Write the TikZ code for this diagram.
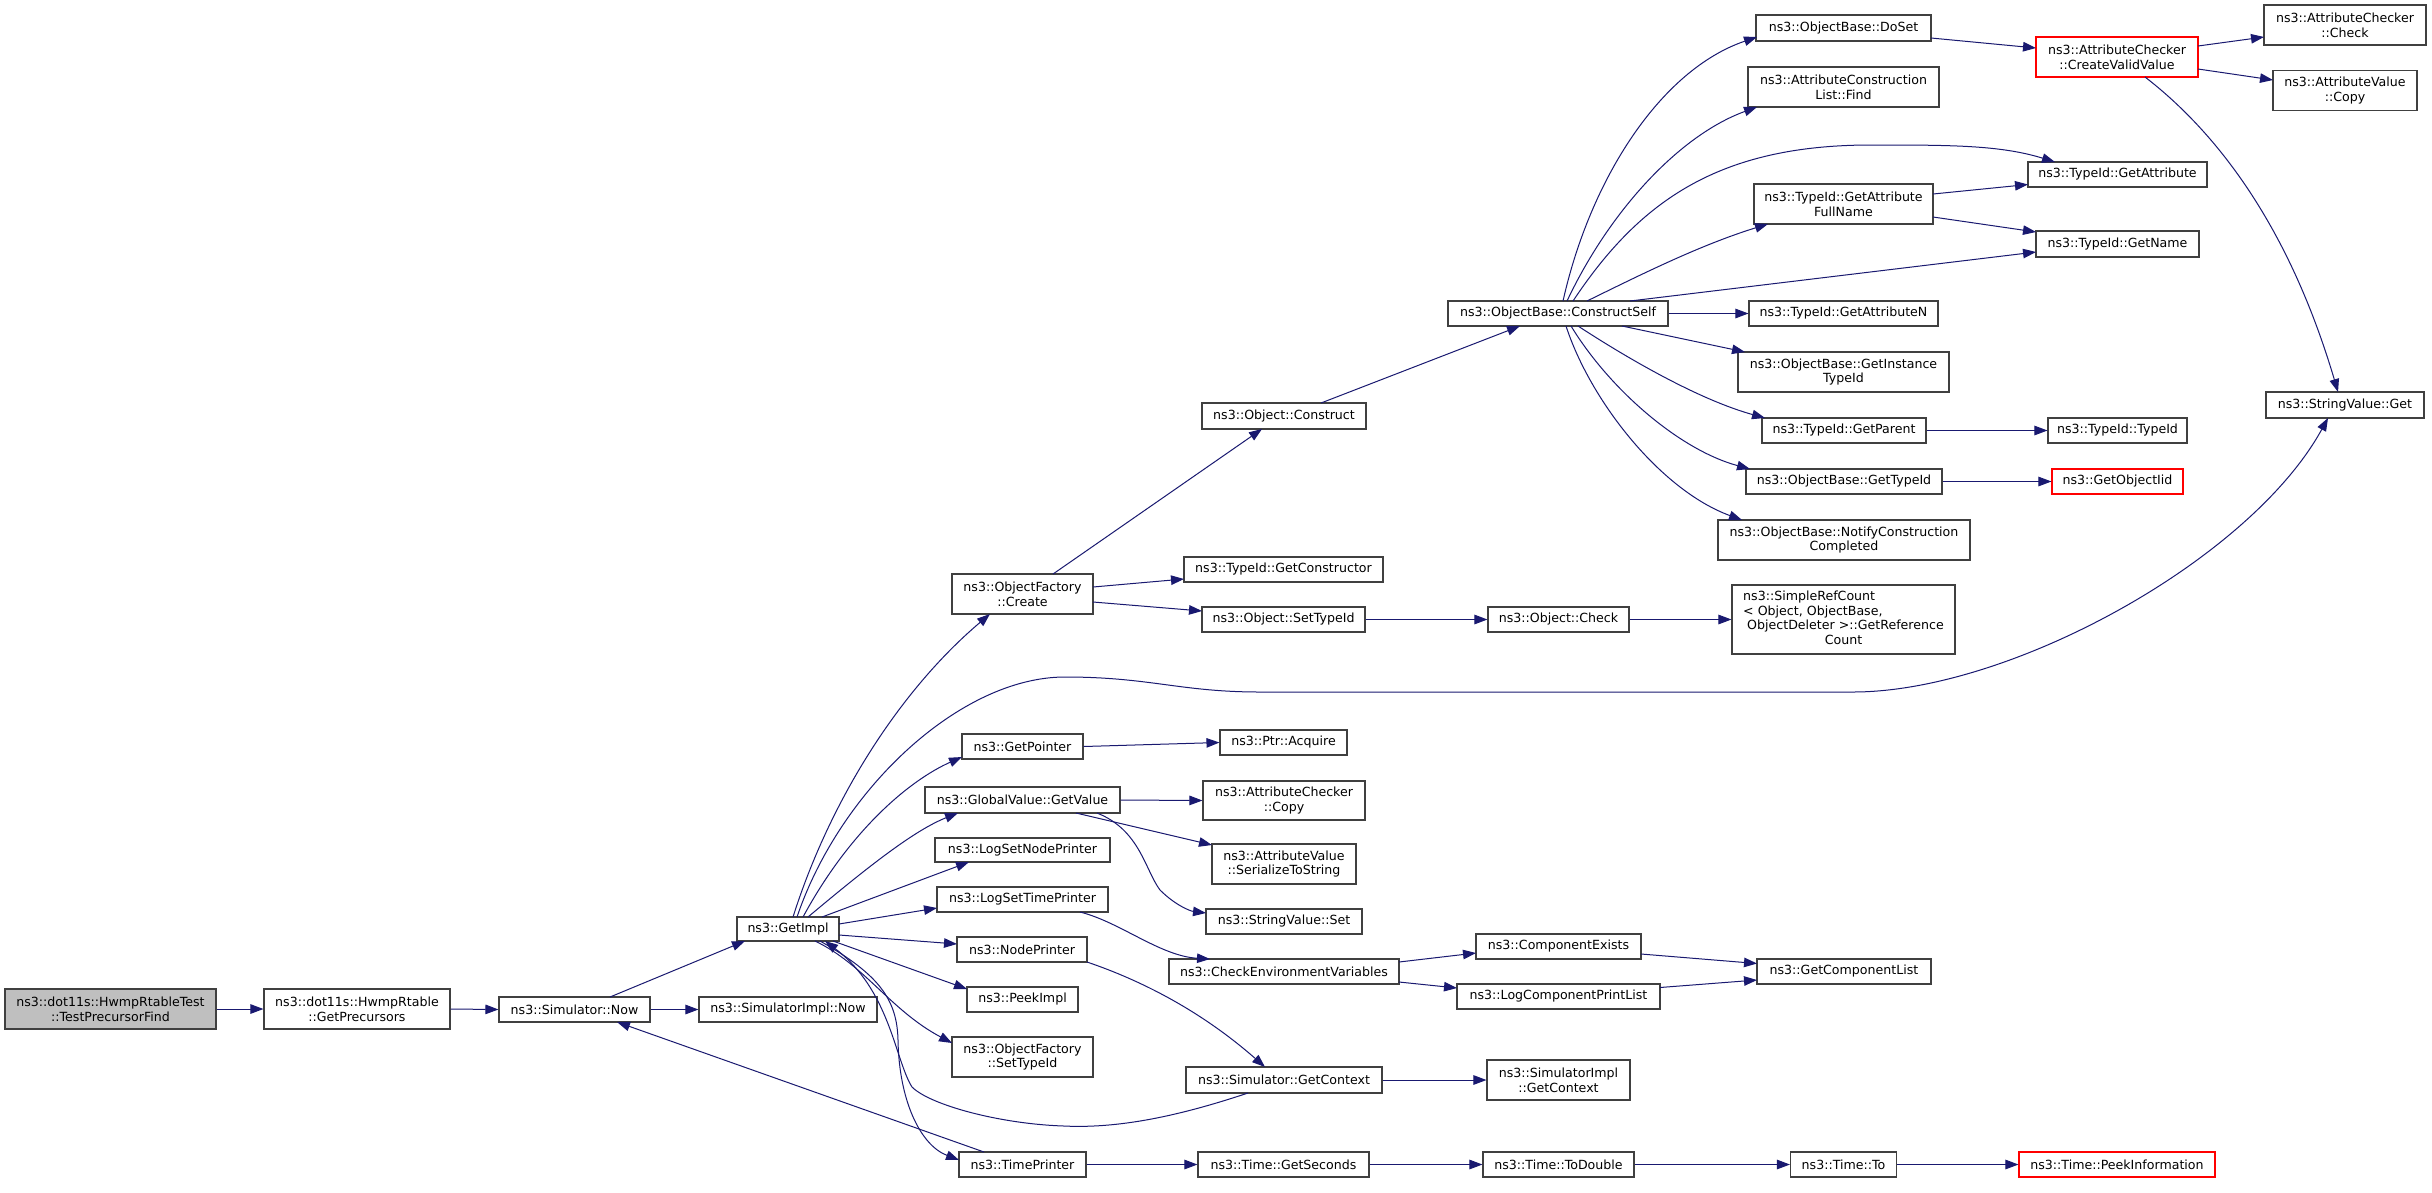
\documentclass[tikz,border=0pt]{standalone}
\usepackage{fontspec}
\setmainfont{DejaVu Sans}
\usetikzlibrary{arrows.meta,calc}
\definecolor{edgeblue}{HTML}{191970}
\definecolor{rootgray}{HTML}{BFBFBF}
\definecolor{bordergray}{HTML}{404040}
\definecolor{hotred}{HTML}{FF0000}
\tikzset{
  fn/.style={draw=bordergray, line width=1.1pt, fill=white, inner sep=0pt, align=center,
             font=\fontsize{12.6}{14.7}\selectfont},
  rootfn/.style={fill=rootgray},
  redfn/.style={draw=hotred},
  call/.style={draw=edgeblue, line width=1pt, -{Triangle[length=13pt,width=9.5pt]}},
}
\newcommand\fnode[7][]{\node[fn,#1,minimum width=#5pt,minimum height=#6pt] (#2) at (#3,#4) {#7};}
\begin{document}
\begin{tikzpicture}[x=1pt,y=-1pt]
\useasboundingbox[fill=white] (0,0) rectangle (2432,1192);
% column 1-4
\fnode[rootfn]{tpf}{110.5}{1009}{211}{40}{ns3::dot11s::HwmpRtableTest\\::TestPrecursorFind}
\fnode{gp}{357}{1009}{186}{40}{ns3::dot11s::HwmpRtable\\::GetPrecursors}
\fnode{snow}{574.5}{1009.5}{151}{25}{ns3::Simulator::Now}
\fnode{sinow}{788}{1009.5}{178}{25}{ns3::SimulatorImpl::Now}
\fnode{gimpl}{788}{929}{102}{24}{ns3::GetImpl}
% column 5
\fnode{ofc}{1022.5}{594}{141}{40}{ns3::ObjectFactory\\::Create}
\fnode{gptr}{1022.5}{746.5}{121}{25}{ns3::GetPointer}
\fnode{gvgv}{1022.5}{800}{195}{26}{ns3::GlobalValue::GetValue}
\fnode{lsnp}{1022.5}{850}{175}{24}{ns3::LogSetNodePrinter}
\fnode{lstp}{1022.5}{899.5}{171}{25}{ns3::LogSetTimePrinter}
\fnode{nprt}{1022}{949.5}{130}{25}{ns3::NodePrinter}
\fnode{peek}{1022.5}{999.5}{111}{25}{ns3::PeekImpl}
\fnode{ofsti}{1022.5}{1057}{141}{40}{ns3::ObjectFactory\\::SetTypeId}
\fnode{tprt}{1022.5}{1164.5}{127}{25}{ns3::TimePrinter}
% column 6
\fnode{ocon}{1284}{416}{164}{26}{ns3::Object::Construct}
\fnode{gcons}{1283.5}{569.5}{199}{25}{ns3::TypeId::GetConstructor}
\fnode{osti}{1283.5}{619.5}{163}{25}{ns3::Object::SetTypeId}
\fnode{pacq}{1283.5}{742.5}{127}{25}{ns3::Ptr::Acquire}
\fnode{accopy}{1284}{800.5}{162}{39}{ns3::AttributeChecker\\::Copy}
\fnode{s2s}{1284}{864}{144}{40}{ns3::AttributeValue\\::SerializeToString}
\fnode{svset}{1284}{921.5}{156}{25}{ns3::StringValue::Set}
\fnode{cev}{1284}{971.5}{230}{25}{ns3::CheckEnvironmentVariables}
\fnode{sgctx}{1284}{1080}{196}{26}{ns3::Simulator::GetContext}
\fnode{tgs}{1283.5}{1164.5}{171}{25}{ns3::Time::GetSeconds}
% column 7
\fnode{cself}{1558}{313.5}{220}{25}{ns3::ObjectBase::ConstructSelf}
\fnode{ochk}{1558.5}{619.5}{141}{25}{ns3::Object::Check}
\fnode{cex}{1558.5}{946.5}{165}{25}{ns3::ComponentExists}
\fnode{lcpl}{1558.5}{996.5}{203}{25}{ns3::LogComponentPrintList}
\fnode{sictx}{1558.5}{1080}{143}{40}{ns3::SimulatorImpl\\::GetContext}
\fnode{tdbl}{1558.5}{1164.5}{151}{25}{ns3::Time::ToDouble}
% column 8
\fnode{doset}{1843.5}{28}{175}{26}{ns3::ObjectBase::DoSet}
\fnode{acl}{1843.5}{87}{191}{40}{ns3::AttributeConstruction\\List::Find}
\fnode{gafn}{1843.5}{204}{179}{40}{ns3::TypeId::GetAttribute\\FullName}
\fnode{gan}{1843.5}{313.5}{189}{25}{ns3::TypeId::GetAttributeN}
\fnode{gitid}{1843.5}{372}{211}{40}{ns3::ObjectBase::GetInstance\\TypeId}
\fnode{gpar}{1844}{430.5}{164}{25}{ns3::TypeId::GetParent}
\fnode{obgt}{1844}{481.5}{196}{25}{ns3::ObjectBase::GetTypeId}
\fnode{ncc}{1844}{540}{252}{40}{ns3::ObjectBase::NotifyConstruction\\Completed}
\fnode{src}{1843.5}{619.5}{223}{69}{\begin{tabular}{@{}l@{}}ns3::SimpleRefCount\\
  < Object, ObjectBase,\\
  \ ObjectDeleter >::GetReference\\
  \multicolumn{1}{@{}c@{}}{Count}\end{tabular}}
\fnode{gcl}{1844}{971.5}{174}{25}{ns3::GetComponentList}
\fnode{tto}{1843.5}{1164.5}{106}{25}{ns3::Time::To}
% column 9
\fnode[redfn]{cvv}{2117}{57}{162}{40}{ns3::AttributeChecker\\::CreateValidValue}
\fnode{gattr}{2117.5}{174.5}{179}{25}{ns3::TypeId::GetAttribute}
\fnode{gname}{2117.5}{244}{163}{26}{ns3::TypeId::GetName}
\fnode{tidtid}{2117.5}{430.5}{139}{25}{ns3::TypeId::TypeId}
\fnode[redfn]{goiid}{2117.5}{481.5}{131}{25}{ns3::GetObjectIid}
\fnode[redfn]{tpi}{2117}{1164.5}{196}{25}{ns3::Time::PeekInformation}
% column 10
\fnode{achk}{2345}{25}{162}{40}{ns3::AttributeChecker\\::Check}
\fnode{avcopy}{2345}{90.5}{144}{40}{ns3::AttributeValue\\::Copy}
\fnode{svget}{2345}{405}{158}{26}{ns3::StringValue::Get}

% ---------- connectors ----------
\draw[call] (tpf.east) -- (gp.west);
\draw[call] (gp.east) -- (snow.west);
\draw[call] (snow.east) -- (sinow.west);
\draw[call] ($(snow)+(35.5,-12.5)$) -- ($(gimpl)+(-43,12)$);
\draw[call] ($(tprt)+(-38.5,-12.5)$) -- ($(snow)+(42.5,12.5)$);
% GetImpl fan-out
\draw[call] ($(gimpl)+(5,-12)$) .. controls +(37,-117) and +(-90,76) .. ($(ofc)+(-32.5,20)$);
\draw[call] ($(gimpl)+(9,-12)$) .. controls +(43,-127) and +(-105,0) .. (1065,677)
   .. controls +(85,0) and +(-80,0) .. (1260,692) -- (1853,692)
   .. controls +(157,0) and +(-78,142) .. ($(svget)+(-17,13)$);
\draw[call] ($(gimpl)+(15,-12)$) .. controls +(47,-87) and +(-52,23) .. ($(gptr)+(-60.5,10.5)$);
\draw[call] ($(gimpl)+(20,-12)$) .. controls +(62,-52) and +(-43,17) .. ($(gvgv)+(-64.5,13)$);
\draw[call] ($(gimpl)+(34,-12)$) -- ($(lsnp)+(-53.5,12)$);
\draw[call] ($(gimpl)+(51,-5)$) -- ($(lstp)+(-85.5,8.5)$);
\draw[call] ($(gimpl)+(51,6)$) -- ($(nprt)+(-65,-5.5)$);
\draw[call] ($(gimpl)+(45,12)$) -- ($(peek)+(-55.5,-10.5)$);
\draw[call] ($(gimpl)+(27,12)$) .. controls +(50,24) and +(-62,-33) .. ($(ofsti)+(-70.5,-14)$);
\draw[call] ($(gimpl)+(32,12)$) .. controls +(60,34) and +(-1,-40) .. (898,1040)
   .. controls +(1,60) and +(-39,-15) .. ($(tprt)+(-63.5,-4.5)$);
\draw[call] ($(sgctx)+(-36,13)$) .. controls +(-60,20) and +(60,3) .. (1064,1126)
   .. controls +(-64,-2) and +(18,18) .. (912,1087)
   .. controls +(-17,-27) and +(65,49) .. ($(gimpl)+(37,12)$);
% column 5 outgoing
\draw[call] ($(nprt)+(65,12.5)$) .. controls +(53,18) and +(-65,-57) .. ($(sgctx)+(-19,-13)$);
\draw[call] ($(lstp)+(57.5,12.5)$) .. controls +(40,10) and +(-50,-3) .. ($(cev)+(-74,-12.5)$);
\draw[call] (gvgv.east) -- (accopy.west);
\draw[call] ($(gvgv)+(53.5,13)$) -- ($(s2s)+(-72,-19)$);
\draw[call] ($(gvgv)+(74.5,13)$) .. controls +(43,17) and +(-15,-20) .. (1160,890)
   .. controls +(15,15) and +(-16,-2) .. ($(svset)+(-78,-8.5)$);
\draw[call] (gptr.east) -- (pacq.west);
\draw[call] ($(ofc)+(30.5,-20)$) -- ($(ocon)+(-22,13)$);
\draw[call] ($(ofc)+(70.5,-7)$) -- ($(gcons)+(-99.5,9.5)$);
\draw[call] ($(ofc)+(70.5,8)$) -- ($(osti)+(-81.5,-8.5)$);
\draw[call] (osti.east) -- (ochk.west);
\draw[call] (ochk.east) -- (src.west);
\draw[call] ($(ocon)+(37,-13)$) -- ($(cself)+(-38,12.5)$);
% ConstructSelf fan-out
\draw[call] (cself.east) -- (gan.west);
\draw[call] ($(cself)+(64,12.5)$) -- ($(gitid)+(-98.5,-20)$);
\draw[call] ($(cself)+(20,12.5)$) .. controls +(52,34) and +(-65,-18) .. ($(gpar)+(-79,-12.5)$);
\draw[call] ($(cself)+(13,12.5)$) .. controls +(39,64) and +(-70,-19) .. ($(obgt)+(-94,-12.5)$);
\draw[call] ($(cself)+(8,12.5)$) .. controls +(24,74) and +(-82,-30) .. ($(ncc)+(-102,-20)$);
\draw[call] ($(cself)+(5,-12.5)$) .. controls +(27,-121) and +(-97,33) .. ($(doset)+(-86.5,9)$);
\draw[call] ($(cself)+(9,-12.5)$) .. controls +(43,-91) and +(-77,28) .. ($(acl)+(-86.5,20)$);
\draw[call] ($(cself)+(15,-12.5)$) .. controls +(67,-101) and +(-151,0) .. (1871,145)
   .. controls +(79,0) and +(-55,-17) .. ($(gattr)+(-62.5,-12.5)$);
\draw[call] ($(cself)+(29,-12.5)$) .. controls +(53,-26) and +(-68,21) .. ($(gafn)+(-75.5,20)$);
\draw[call] ($(cself)+(72,-12.5)$) -- ($(gname)+(-81.5,8)$);
\draw[call] ($(gafn)+(89.5,-10)$) -- ($(gattr)+(-89.5,10)$);
\draw[call] ($(gafn)+(89.5,13)$) -- ($(gname)+(-81.5,-12)$);
\draw[call] ($(doset)+(87.5,10)$) -- ($(cvv)+(-81,-9)$);
\draw[call] ($(cvv)+(81,-11)$) -- ($(achk)+(-81,12)$);
\draw[call] ($(cvv)+(81,12)$) -- ($(avcopy)+(-72,-10.5)$);
\draw[call] ($(cvv)+(28,20)$) .. controls +(75,58) and +(-48,-162) .. ($(svget)+(-7,-13)$);
\draw[call] (gpar.east) -- (tidtid.west);
\draw[call] (obgt.east) -- (goiid.west);
% lower part
\draw[call] ($(cev)+(115,-9.5)$) -- ($(cex)+(-82.5,6.5)$);
\draw[call] ($(cev)+(115,10.5)$) -- ($(lcpl)+(-101.5,-8.5)$);
\draw[call] ($(cex)+(82.5,7.5)$) -- ($(gcl)+(-87,-8)$);
\draw[call] ($(lcpl)+(101.5,-9)$) -- ($(gcl)+(-87,8.5)$);
\draw[call] (sgctx.east) -- (sictx.west);
\draw[call] (tprt.east) -- (tgs.west);
\draw[call] (tgs.east) -- (tdbl.west);
\draw[call] (tdbl.east) -- (tto.west);
\draw[call] (tto.east) -- (tpi.west);
\end{tikzpicture}
\end{document}
